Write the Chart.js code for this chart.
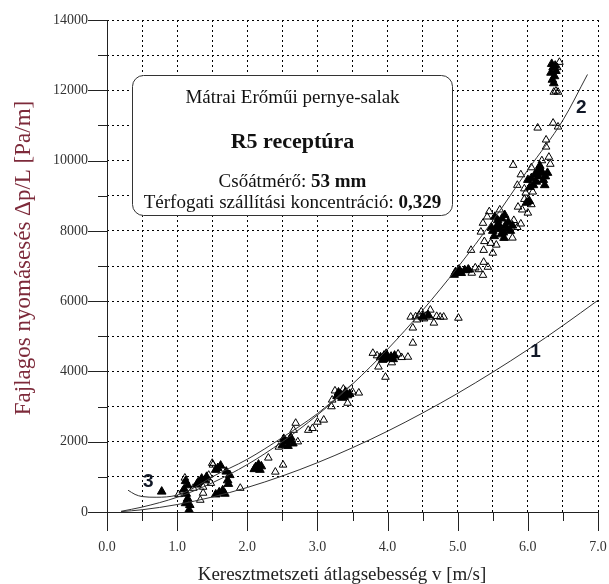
<!DOCTYPE html>
<html>
<head>
<meta charset="utf-8">
<script src="https://cdn.jsdelivr.net/npm/chart.js@4/dist/chart.umd.min.js"></script>
<style>
  body { margin: 0; background: #fff; }
  canvas { display: block; }
</style>
</head>
<body>
<canvas id="dpChart" width="609" height="584"></canvas>
<script>
// Measured pressure gradient, open triangles [v m/s, dp/L Pa/m]
const openPts = [
  [1.02, 500], [1.08, 600], [1.11, 970], [1.23, 680], [1.33, 340], [1.37, 540],
  [1.37, 710], [1.45, 1050], [1.50, 1390], [1.51, 1340], [1.48, 820], [1.90, 680],
  [2.30, 1540], [2.40, 1140], [2.51, 1340], [2.45, 1850], [2.72, 2000],
  [2.69, 2530], [2.66, 2330], [2.87, 2330], [2.93, 2380], [3.00, 2560], [3.09, 2620],
  [3.21, 3190], [3.43, 3100], [3.59, 3390], [3.25, 3450], [3.20, 3000], [3.50, 3420], [3.37, 3500],
  [3.79, 4520], [4.29, 4410], [3.87, 4130], [3.97, 3840], [4.36, 4810], [4.20, 4400],
  [3.85, 4450], [4.15, 4500], [4.06, 4250],
  [4.33, 5550], [4.40, 5560], [4.45, 5600], [4.50, 5530], [4.55, 5580], [4.60, 5550],
  [4.66, 5380], [4.70, 5570], [4.75, 5550], [4.80, 5550], [5.01, 5520], [4.61, 5750],
  [4.48, 5700], [4.36, 5240], [4.52, 5500], [4.42, 5470],
  [5.16, 6890], [5.36, 6740], [5.43, 6970], [5.37, 7110], [5.25, 6950], [5.20, 6800],
  [5.19, 7450], [5.37, 7450], [5.50, 7370], [5.30, 6900],
  [5.36, 8220], [5.33, 7970], [5.47, 7650], [5.42, 8400], [5.80, 8300], [5.85, 8100],
  [5.78, 7800], [5.55, 7600], [5.45, 8550], [5.60, 8600], [5.90, 8200], [5.38, 7700],
  [6.00, 8820], [5.86, 8680], [6.00, 8510], [6.07, 9110], [5.95, 8900], [6.05, 8750], [5.92, 8600],
  [5.79, 9870], [6.30, 10100], [5.97, 9080], [6.26, 10390], [6.26, 10590], [5.90, 9600],
  [5.85, 9300], [6.32, 9900], [6.20, 10000], [6.05, 9800], [5.95, 9200],
  [6.14, 10930], [6.36, 11070], [6.43, 10960], [6.37, 11950], [6.43, 11950], [6.40, 11980],
  [6.45, 12800], [6.42, 12650]
];

// Dense clusters and solid markers
const filledPts = [
  [0.78, 580],
  [1.17, 60], [1.18, 200], [1.12, 250], [1.15, 380], [1.13, 520], [1.10, 650], [1.15, 760], [1.12, 880],
  [1.28, 780], [1.30, 850], [1.35, 950], [1.40, 900], [1.42, 1000],
  [1.55, 1200], [1.58, 1250], [1.62, 1320],
  [1.70, 1150], [1.72, 900], [1.73, 800], [1.75, 1050],
  [1.55, 500], [1.60, 560], [1.65, 620], [1.68, 520],
  [2.10, 1220], [2.12, 1280], [2.16, 1350], [2.18, 1200], [2.20, 1300],
  [2.50, 1900], [2.52, 2080], [2.55, 2000], [2.58, 1880], [2.60, 2050], [2.62, 2120], [2.65, 1950],
  [3.28, 3300], [3.30, 3400], [3.33, 3350], [3.35, 3250], [3.38, 3280], [3.40, 3420], [3.43, 3320], [3.46, 3360],
  [3.90, 4400], [3.93, 4330], [3.95, 4450], [3.98, 4500], [4.00, 4380], [4.05, 4420], [4.08, 4350], [4.10, 4450],
  [4.50, 5560], [4.58, 5600],
  [4.95, 6750], [4.97, 6830], [5.02, 6900], [5.05, 6800], [5.10, 6880], [5.15, 6900],
  [5.48, 8100], [5.50, 8000], [5.52, 7850], [5.55, 8100], [5.57, 8300], [5.58, 8200], [5.60, 8050],
  [5.62, 7900], [5.63, 8350], [5.65, 7950], [5.66, 7800], [5.68, 8150], [5.70, 8050], [5.72, 8250], [5.75, 8000],
  [5.78, 8150], [5.53, 8400], [5.67, 8450],
  [5.98, 8800], [6.02, 8850],
  [6.00, 9450], [6.05, 9500], [6.08, 9300], [6.10, 9600], [6.12, 9400], [6.14, 9700], [6.15, 9550],
  [6.18, 9750], [6.20, 9650], [6.22, 9450], [6.25, 9550], [6.28, 9650],
  [6.03, 9250], [6.17, 9850], [6.24, 9300],
  [6.33, 12500], [6.34, 12750], [6.35, 12300], [6.36, 12650], [6.37, 12200], [6.38, 12400], [6.39, 12700], [6.40, 12550]
];

// Model curves
const curve1 = [
  [0.2, 10], [0.5, 64], [1.0, 212], [1.5, 426], [2.0, 698], [2.5, 1025], [3.0, 1403],
  [3.5, 1829], [4.0, 2300], [4.5, 2818], [5.0, 3377], [5.5, 3980], [6.0, 4620],
  [6.5, 5306], [7.0, 6025]
];
const curve2 = [
  [0.2, 20], [0.5, 140], [1.0, 420], [1.5, 830], [2.0, 1350], [2.5, 2000], [3.0, 2760],
  [3.5, 3640], [4.0, 4630], [4.5, 5740], [5.0, 6960], [5.5, 8290], [6.0, 9735],
  [6.5, 11150], [6.85, 12450]
];
const curve3 = [
  [0.3, 620], [0.4, 500], [0.5, 440], [0.7, 420], [1.0, 480], [1.25, 700], [1.5, 1000],
  [2.0, 1500], [2.5, 2120], [3.0, 2800], [3.5, 3650]
];

const xTicksLabelled = [0, 1, 2, 3, 4, 5, 6, 7];
const yTicksLabelled = [0, 2000, 4000, 6000, 8000, 10000, 12000, 14000];

const curveLabels = [
  { text: '1', v: 6.11, p: 4550 },
  { text: '2', v: 6.76, p: 11500 },
  { text: '3', v: 0.59, p: 850 }
];

const boxLines = [
  [{ t: 'Mátrai Erőműi pernye-salak', b: false }],
  [{ t: 'R5 receptúra', b: true }],
  [{ t: 'Csőátmérő: ', b: false }, { t: '53 mm', b: true }],
  [{ t: 'Térfogati szállítási koncentráció: ', b: false }, { t: '0,329', b: true }]
];

const SERIF = '"Liberation Serif", "DejaVu Serif", serif';
const toXY = arr => arr.map(([x, y]) => ({ x, y }));

// keep the plot area fixed: no extra room for edge tick labels
const fixPadding = s => {
  s.paddingLeft = 0; s.paddingRight = 0;
  s.paddingTop = 0; s.paddingBottom = 0;
};

// axis lines, major/minor tick marks, curve numbers, info box and titles
const decorations = {
  id: 'decorations',
  beforeDatasetsDraw(chart) {
    const { ctx, scales: { x, y } } = chart;
    const x0 = x.getPixelForValue(0), y0 = y.getPixelForValue(0);
    ctx.save();
    ctx.strokeStyle = '#222';
    ctx.lineWidth = 1;
    ctx.beginPath();
    ctx.moveTo(x0 + 0.5, y.getPixelForValue(14000));
    ctx.lineTo(x0 + 0.5, y0 + 19);
    ctx.moveTo(x0 - 19, y0 + 0.5);
    ctx.lineTo(x.getPixelForValue(7), y0 + 0.5);
    x.ticks.forEach(t => {
      const px = Math.round(x.getPixelForValue(t.value)) + 0.5;
      const len = xTicksLabelled.includes(t.value) ? 19 : 9;
      ctx.moveTo(px, y0);
      ctx.lineTo(px, y0 + len);
    });
    y.ticks.forEach(t => {
      const py = Math.round(y.getPixelForValue(t.value)) + 0.5;
      const len = yTicksLabelled.includes(t.value) ? 19 : 9;
      ctx.moveTo(x0, py);
      ctx.lineTo(x0 - len, py);
    });
    ctx.stroke();
    ctx.restore();
  },
  afterDatasetsDraw(chart) {
    const { ctx, scales: { x, y } } = chart;
    ctx.save();

    // curve numbers
    ctx.fillStyle = '#111827';
    ctx.font = 'bold 19px "Liberation Sans", Arial, sans-serif';
    ctx.textAlign = 'center';
    ctx.textBaseline = 'middle';
    curveLabels.forEach(l => ctx.fillText(l.text, x.getPixelForValue(l.v), y.getPixelForValue(l.p)));

    // info box
    const bx = 132.5, by = 75.5, bw = 320, bh = 140, r = 11;
    ctx.beginPath();
    ctx.roundRect(bx, by, bw, bh, r);
    ctx.fillStyle = '#fff';
    ctx.fill();
    ctx.strokeStyle = '#333';
    ctx.lineWidth = 1;
    ctx.stroke();

    const cx = bx + bw / 2;
    const rows = [
      { y: 98, size: 19 },
      { y: 142, size: 22 },
      { y: 182, size: 19 },
      { y: 203, size: 19 }
    ];
    ctx.fillStyle = '#111';
    ctx.textBaseline = 'middle';
    ctx.textAlign = 'left';
    boxLines.forEach((parts, i) => {
      const size = rows[i].size;
      const widths = parts.map(p => {
        ctx.font = (p.b ? 'bold ' : '') + size + 'px ' + SERIF;
        return ctx.measureText(p.t).width;
      });
      let px = cx - widths.reduce((a, b) => a + b, 0) / 2;
      parts.forEach((p, k) => {
        ctx.font = (p.b ? 'bold ' : '') + size + 'px ' + SERIF;
        ctx.fillText(p.t, px, rows[i].y);
        px += widths[k];
      });
    });

    // axis titles
    ctx.textAlign = 'center';
    ctx.font = '19px ' + SERIF;
    ctx.fillStyle = '#222';
    ctx.fillText('Keresztmetszeti átlagsebesség v [m/s]', 342, 575);
    ctx.translate(24, 258);
    ctx.rotate(-Math.PI / 2);
    ctx.font = '23px ' + SERIF;
    ctx.fillStyle = '#7d2a3a';
    ctx.fillText('Fajlagos nyomásesés Δp/L [Pa/m]', 0, 0);
    ctx.restore();
  }
};

const lineStyle = {
  type: 'line',
  borderColor: '#333',
  borderWidth: 1,
  pointRadius: 0,
  cubicInterpolationMode: 'monotone',
  fill: false
};

new Chart(document.getElementById('dpChart'), {
  type: 'scatter',
  data: {
    datasets: [
      { ...lineStyle, label: '1', data: toXY(curve1) },
      { ...lineStyle, label: '2', data: toXY(curve2) },
      { ...lineStyle, label: '3', data: toXY(curve3) },
      {
        label: 'mért (üres)',
        data: toXY(openPts),
        pointStyle: 'triangle',
        pointRadius: 4.4,
        borderColor: '#000',
        borderWidth: 1,
        backgroundColor: 'rgba(0,0,0,0)'
      },
      {
        label: 'mért (tömör)',
        data: toXY(filledPts),
        pointStyle: 'triangle',
        pointRadius: 5,
        borderColor: '#000',
        borderWidth: 1,
        backgroundColor: '#000'
      }
    ]
  },
  options: {
    responsive: false,
    animation: false,
    layout: { padding: { top: 20, right: 11, left: 0, bottom: 0 } },
    plugins: { legend: { display: false }, tooltip: { enabled: false } },
    scales: {
      x: {
        type: 'linear',
        min: 0,
        max: 7,
        afterFit: s => { s.height = 72; fixPadding(s); },
        ticks: {
          stepSize: 0.5,
          autoSkip: false,
          maxRotation: 0,
          padding: 27,
          color: '#333',
          font: { family: SERIF, size: 14 },
          callback: v => (xTicksLabelled.includes(v) ? v.toFixed(1) : '')
        },
        grid: { color: '#000', lineWidth: 1, drawTicks: false },
        border: { display: false, dash: [2, 3] }
      },
      y: {
        min: 0,
        max: 14000,
        afterFit: s => { s.width = 107; fixPadding(s); },
        ticks: {
          stepSize: 1000,
          autoSkip: false,
          padding: 19,
          color: '#333',
          font: { family: SERIF, size: 14 },
          callback: v => (yTicksLabelled.includes(v) ? String(v) : '')
        },
        grid: { color: '#000', lineWidth: 1, drawTicks: false },
        border: { display: false, dash: [2, 3] }
      }
    }
  },
  plugins: [decorations]
});
</script>
</body>
</html>
